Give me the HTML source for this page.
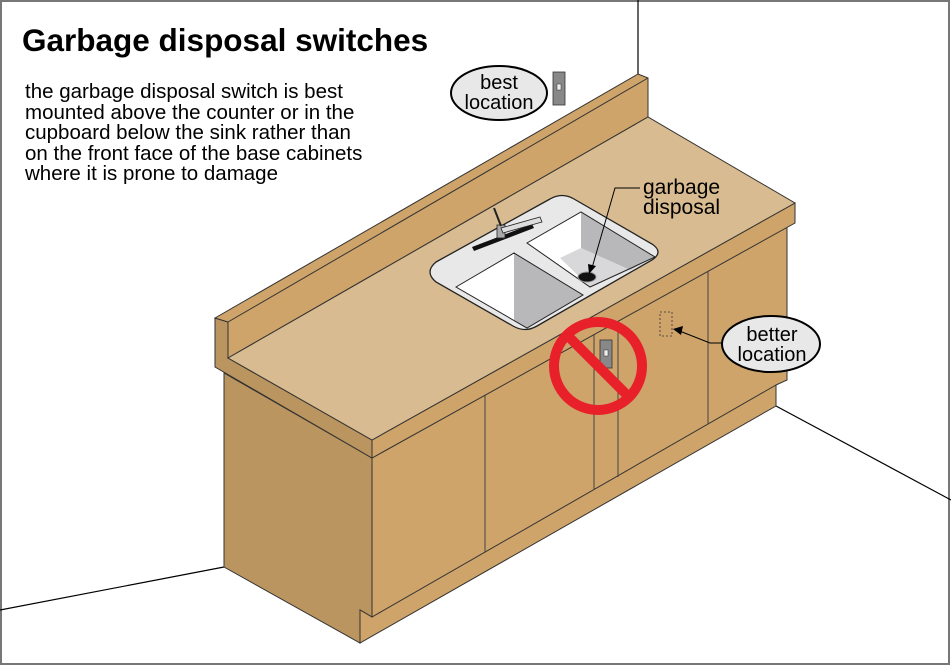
<!DOCTYPE html>
<html><head><meta charset="utf-8"><style>
html,body{margin:0;padding:0;background:#fff}
svg{display:block}
text{font-family:"Liberation Sans",Arial,sans-serif}
</style></head><body>
<svg width="951" height="666" viewBox="0 0 951 666" xmlns="http://www.w3.org/2000/svg">
<rect x="1" y="1" width="948" height="663" fill="#fff" stroke="#777" stroke-width="2"/>
<line x1="638" y1="0" x2="638" y2="74" stroke="#000" stroke-width="1.2"/>
<line x1="776" y1="406" x2="951" y2="500" stroke="#000" stroke-width="1.2"/>
<line x1="0" y1="610" x2="224" y2="567" stroke="#000" stroke-width="1.2"/>
<polygon points="224,373 372,458 372,617 360,610 360,643 224,567" fill="#bb955f" stroke="#333" stroke-width="1"/>
<polygon points="372,458 787,223 787,380 776,385 776,406 360,643 360,610 372,617" fill="#cfa46a" stroke="#333" stroke-width="1"/>
<line x1="372" y1="617" x2="776" y2="385" stroke="#333" stroke-width="1"/>
<line x1="485" y1="394" x2="485" y2="552" stroke="#444" stroke-width="1"/>
<line x1="594" y1="332" x2="594" y2="490" stroke="#444" stroke-width="1"/>
<line x1="618" y1="319" x2="618" y2="477" stroke="#444" stroke-width="1"/>
<line x1="708" y1="268" x2="708" y2="424" stroke="#444" stroke-width="1"/>
<polygon points="215,318 228,322 228,358 372,440 372,458 215,367" fill="#bb955f" stroke="#333" stroke-width="1"/>
<polygon points="372,440 795,203 795,223 372,458" fill="#cfa46a" stroke="#333" stroke-width="1"/>
<polygon points="215,318 638,74 648,78 648,117 228,358 228,322" fill="#cfa46a" stroke="#333" stroke-width="1"/>
<line x1="228" y1="322" x2="648" y2="78" stroke="#333" stroke-width="1"/>
<polygon points="228,358 648,117 795,203 372,440" fill="#d8bb90" stroke="#333" stroke-width="1"/>
<path d="M436,262 L550,199 Q562,192 574,199 L652,244 Q664,252 652,260 L537,326 Q525,333 513,326 L436,282 Q424,272 436,262 Z" fill="#e8e8e8" stroke="#222" stroke-width="1.3"/>
<polygon points="456,287 514,253 583,295 527,328" fill="#fff"/>
<polygon points="514,253 583,295 527,328 514,320" fill="#b8b8ba"/>
<polygon points="456,287 514,253 583,295 527,328" fill="none" stroke="#222" stroke-width="1"/>
<polygon points="527,243 581,212 655,257 590,287" fill="#fff"/>
<polygon points="581,212 655,257 630,270 581,248" fill="#b8b8ba"/>
<polygon points="560,258 581,248 630,270 590,287" fill="#d8d8da"/>
<polygon points="527,243 581,212 655,257 590,287" fill="none" stroke="#222" stroke-width="1"/>
<ellipse cx="587" cy="277" rx="9" ry="5" fill="#111" stroke="#999"/>
<polygon points="472,247 532,224 534,228 474,251" fill="#111"/>
<rect x="497" y="225" width="8" height="13" fill="#aaa" stroke="#222" stroke-width="0.8"/>
<path d="M501,228 L540,217 L542,222 L503,233 Z" fill="#ddd" stroke="#222" stroke-width="0.8"/>
<line x1="494" y1="208" x2="501" y2="226" stroke="#222" stroke-width="2"/>
<text x="643" y="194" font-size="21">garbage</text>
<text x="643" y="214" font-size="21">disposal</text>
<polyline points="640,188 615,188 592,268" fill="none" stroke="#000" stroke-width="1"/>
<polygon points="589,274 588,264 596,266" fill="#000"/>
<rect x="600" y="340" width="12" height="28" fill="#888" stroke="#333" stroke-width="0.8"/>
<rect x="604" y="350" width="4" height="6" fill="#eee" stroke="#333" stroke-width="0.5"/>
<circle cx="598" cy="366" r="44" fill="none" stroke="#e8202a" stroke-width="10"/>
<line x1="567" y1="335" x2="629" y2="397" stroke="#e8202a" stroke-width="10"/>
<rect x="660" y="312" width="12" height="24" fill="none" stroke="#333" stroke-width="0.8" stroke-dasharray="2,2"/>
<polyline points="722,343 710,343 677,330" fill="none" stroke="#000" stroke-width="1"/>
<polygon points="673,329 683,326 681,335" fill="#000"/>
<ellipse cx="771" cy="344" rx="49" ry="28" fill="#e8e8e8" stroke="#000" stroke-width="2"/>
<text x="772" y="341" font-size="20" text-anchor="middle">better</text>
<text x="772" y="361" font-size="20" text-anchor="middle">location</text>
<ellipse cx="499" cy="93" rx="48" ry="27" fill="#e8e8e8" stroke="#000" stroke-width="2"/>
<text x="499" y="89" font-size="20" text-anchor="middle">best</text>
<text x="499" y="109" font-size="20" text-anchor="middle">location</text>
<rect x="553" y="72" width="12" height="33" fill="#888" stroke="#333" stroke-width="0.8"/>
<rect x="557" y="84" width="4" height="6" fill="#eee" stroke="#333" stroke-width="0.5"/>
<text x="22" y="51" font-size="31.5" font-weight="bold">Garbage disposal switches</text>
<text font-size="20.5">
<tspan x="25" y="98">the garbage disposal switch is best</tspan>
<tspan x="25" y="119">mounted above the counter or in the</tspan>
<tspan x="25" y="139">cupboard below the sink rather than</tspan>
<tspan x="25" y="160">on the front face of the base cabinets</tspan>
<tspan x="25" y="180">where it is prone to damage</tspan>
</text>
</svg>
</body></html>
